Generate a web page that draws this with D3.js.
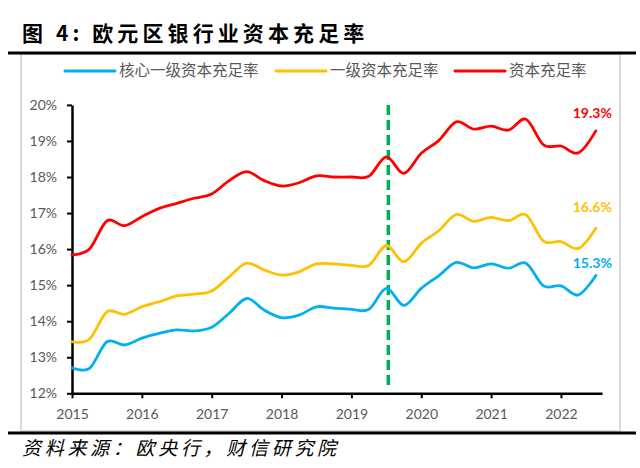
<!DOCTYPE html>
<html><head><meta charset="utf-8">
<script src="https://cdn.jsdelivr.net/npm/d3@7"></script>
<style>html,body{margin:0;padding:0;background:#fff;} svg{display:block;}</style>
</head><body><svg id="c" width="640" height="468"></svg>
<script>
const quarters = ["2015Q1","2015Q2","2015Q3","2015Q4","2016Q1","2016Q2","2016Q3","2016Q4",
  "2017Q1","2017Q2","2017Q3","2017Q4","2018Q1","2018Q2","2018Q3","2018Q4",
  "2019Q1","2019Q2","2019Q3","2019Q4","2020Q1","2020Q2","2020Q3","2020Q4",
  "2021Q1","2021Q2","2021Q3","2021Q4","2022Q1","2022Q2","2022Q3"];
const yearLabels = ["2015","2016","2017","2018","2019","2020","2021","2022"];
const yTickValues = [12,13,14,15,16,17,18,19,20];
const seriesNames = ["核心一级资本充足率","一级资本充足率","资本充足率"];
const cet1  = [12.71,12.69,13.43,13.34,13.53,13.66,13.76,13.73,13.83,14.22,14.63,14.31,14.10,14.17,14.40,14.36,14.33,14.33,14.91,14.44,14.91,15.26,15.63,15.48,15.59,15.47,15.61,14.98,14.98,14.73,15.27];
const tier1 = [13.43,13.50,14.26,14.19,14.40,14.54,14.70,14.75,14.84,15.23,15.61,15.42,15.28,15.37,15.59,15.59,15.55,15.55,16.10,15.65,16.16,16.51,16.96,16.77,16.88,16.79,16.95,16.22,16.21,16.02,16.58];
const total = [15.84,16.00,16.78,16.65,16.90,17.13,17.27,17.41,17.53,17.90,18.15,17.90,17.75,17.84,18.03,18.00,18.00,18.02,18.56,18.10,18.66,19.01,19.53,19.33,19.41,19.30,19.60,18.89,18.86,18.67,19.28];
const markerQuarter = "2019Q3";
const titleText = "图 4: 欧元区银行业资本充足率";
const sourceText = "资料来源：欧央行，财信研究院";

const colors = ["#00B0F0","#FFC000","#FF0000"];
const seriesData = [cet1, tier1, total];

const svg = d3.select("#c");
svg.append("rect").attr("width",640).attr("height",468).attr("fill","#fff");

// frame
svg.append("rect").attr("x",21).attr("y",54).attr("width",599).attr("height",377)
  .attr("fill","none").attr("stroke","#d9d9d9").attr("stroke-width",2);
// top / bottom rules
svg.append("line").attr("x1",8).attr("x2",636).attr("y1",53).attr("y2",53).attr("stroke","#000").attr("stroke-width",3);
svg.append("line").attr("x1",8).attr("x2",636).attr("y1",433).attr("y2",433).attr("stroke","#000").attr("stroke-width",3);

// title
svg.append("text").attr("x",22).attr("y",41).text(titleText)
  .attr("font-family","'Noto Sans CJK SC'").attr("font-weight",700)
  .attr("font-size",21).attr("letter-spacing",4.1).attr("fill","#000");

// source
svg.append("text").attr("x",22).attr("y",455).text(sourceText)
  .attr("font-family","'Noto Sans CJK SC'").attr("font-style","italic")
  .attr("font-size",19).attr("letter-spacing",3.7).attr("fill","#000");

const x = d3.scaleLinear().domain([0, 30.35]).range([72, 602]);
const y = d3.scaleLinear().domain([12, 20]).range([393.3, 104.9]);

// y axis
const ya = svg.append("g").attr("transform","translate(72,0)")
  .call(d3.axisLeft(y).tickValues(yTickValues).tickFormat(d=>d+"%").tickSize(5).tickSizeOuter(0).tickPadding(10));
ya.select(".domain").attr("stroke","#000").attr("stroke-width",2.5);
ya.selectAll(".tick line").attr("stroke","#000").attr("stroke-width",2);
ya.selectAll(".tick text").attr("font-family","Lato").attr("font-size",14).attr("fill","#595959");

// x axis
const yearIdx = yearLabels.map(yr => quarters.indexOf(yr+"Q1"));
const xa = svg.append("g").attr("transform","translate(0,393.3)")
  .call(d3.axisBottom(x).tickValues(yearIdx).tickFormat((d,i)=>yearLabels[i]).tickSize(5).tickSizeOuter(0).tickPadding(11));
xa.select(".domain").attr("stroke","#000").attr("stroke-width",2.5);
xa.selectAll(".tick line").attr("stroke","#000").attr("stroke-width",2);
xa.selectAll(".tick text").attr("font-family","Lato").attr("font-size",14).attr("fill","#595959");

// marker
const mx = x(quarters.indexOf(markerQuarter)) + 2;
svg.append("line").attr("x1",mx).attr("x2",mx).attr("y1",y(20)).attr("y2",y(12)-5)
  .attr("stroke","#00B050").attr("stroke-width",3.5).attr("stroke-dasharray","10,5");

// lines
const line = d3.line().x((d,i)=>x(i)).y(d=>y(d)).curve(d3.curveCardinal.tension(0));
seriesData.forEach((s,k)=>{
  svg.append("path").datum(s).attr("d",line).attr("fill","none")
    .attr("stroke",colors[k]).attr("stroke-width",2.8).attr("stroke-linecap","round");
});

// end labels
const labelOffsets = [12, 21, 18];
seriesData.forEach((s,k)=>{
  const li = s.length-1;
  svg.append("text").attr("x", x(li)+16).attr("y", y(s[li]) - labelOffsets[k])
    .attr("dy","0.35em").attr("text-anchor","end")
    .attr("font-family","Lato").attr("font-weight",700).attr("font-size",14)
    .attr("fill",colors[k]).text(s[li].toFixed(1)+"%");
});

// legend
const legX = [65, 276, 455];
seriesNames.forEach((n,k)=>{
  svg.append("line").attr("x1",legX[k]).attr("x2",legX[k]+50).attr("y1",71).attr("y2",71)
    .attr("stroke",colors[k]).attr("stroke-width",3).attr("stroke-linecap","round");
  svg.append("text").attr("x",legX[k]+54).attr("y",71).attr("dy","0.35em")
    .attr("font-family","'Noto Sans CJK SC'").attr("font-size",15.5).attr("fill","#595959").text(n);
});
</script></body></html>
